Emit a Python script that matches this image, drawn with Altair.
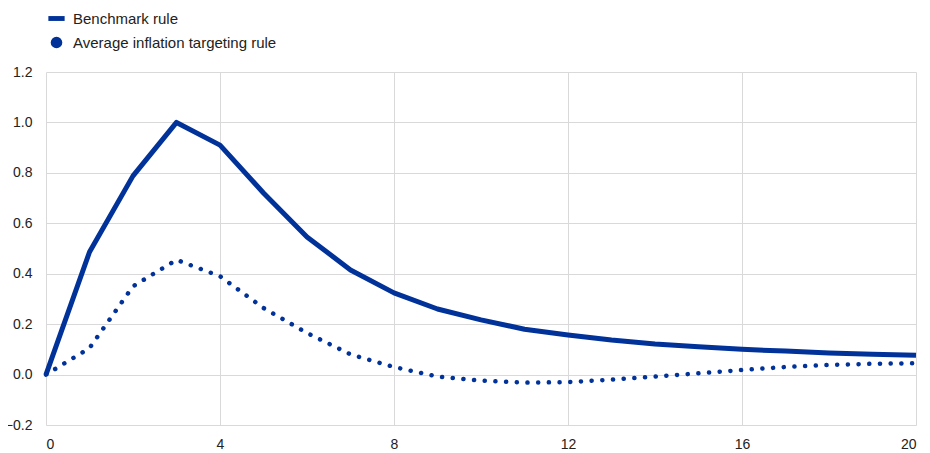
import altair as alt
import pandas as pd

quarters = list(range(21))
benchmark = [0.0, 0.486, 0.788, 1.0, 0.91, 0.72, 0.546, 0.415, 0.324, 0.26, 0.217,
             0.18, 0.157, 0.137, 0.121, 0.11, 0.10, 0.093, 0.086, 0.081, 0.077]
ait = [0.0, 0.105, 0.35, 0.455, 0.39, 0.264, 0.165, 0.08, 0.03, -0.008, -0.024,
       -0.032, -0.03, -0.02, -0.008, 0.005, 0.018, 0.03, 0.038, 0.043, 0.045]
series_names = ["Benchmark rule", "Average inflation targeting rule"]
x_ticks = [0, 4, 8, 12, 16, 20]
y_ticks = [-0.2, 0.0, 0.2, 0.4, 0.6, 0.8, 1.0, 1.2]

BLUE = "#003299"

df = pd.DataFrame({
    "t": quarters * 2,
    "v": benchmark + ait,
    "s": [series_names[0]] * len(quarters) + [series_names[1]] * len(quarters),
})
df_b = df[df.s == series_names[0]]
df_a = df[df.s == series_names[1]]

x = alt.X("t:Q", scale=alt.Scale(domain=[0, 20], nice=False),
          axis=alt.Axis(values=x_ticks, title=None, labelPadding=12))
y = alt.Y("v:Q", scale=alt.Scale(domain=[-0.2, 1.2], nice=False),
          axis=alt.Axis(values=y_ticks, format=".1f", title=None, labelPadding=14))

line_b = alt.Chart(df_b).mark_line(color=BLUE, strokeWidth=5, strokeJoin="round").encode(x=x, y=y)
line_a = alt.Chart(df_a).mark_line(color=BLUE, strokeWidth=4.5, strokeCap="round",
                                   strokeDash=[0.1, 10.6]).encode(x=x, y=y)

legend_pts = alt.Chart(df[df.t == 0]).mark_point(filled=True, size=0, color=BLUE).encode(
    x=x, y=y,
    shape=alt.Shape("s:N", scale=alt.Scale(
        domain=series_names,
        range=["M-1.4,-0.42L1.4,-0.42L1.4,0.42L-1.4,0.42Z", "circle"]),
        legend=alt.Legend(title=None, orient="none", legendX=3, legendY=-61,
                          symbolSize=135, symbolFillColor=BLUE, symbolStrokeColor=BLUE,
                          symbolStrokeWidth=0, symbolOpacity=1, labelLimit=400,
                          labelFontSize=15, labelFont="Liberation Sans", labelColor="#222222",
                          labelOffset=9, rowPadding=8, symbolOffset=0)),
)

chart = alt.layer(line_b, line_a, legend_pts).properties(
    width=870, height=353,
    autosize=alt.AutoSizeParams(type="none"),
    padding={"left": 38, "top": 64, "right": 6, "bottom": 30},
).configure_view(stroke=None).configure_axis(
    grid=True, gridColor="#d9d9d9", gridWidth=1, domain=False, ticks=False,
    labelFont="Liberation Sans", labelFontSize=14, labelColor="#222222",
)

chart.save("out.html", embed_options={"renderer": "svg", "actions": False})
